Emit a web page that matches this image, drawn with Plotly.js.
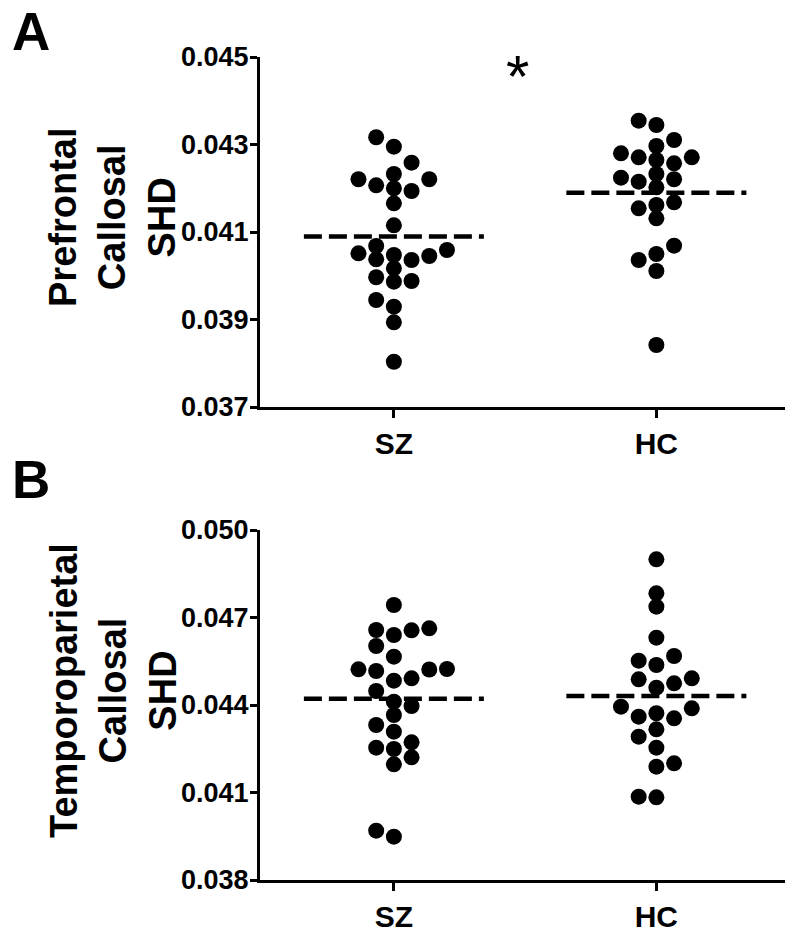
<!DOCTYPE html>
<html>
<head>
<meta charset="utf-8">
<script src="https://cdn.plot.ly/plotly-3.0.1.min.js"></script>
<style>html,body{margin:0;padding:0;background:#fff;}#chart{width:800px;height:943px;}</style>
</head>
<body>
<div id="chart"></div>
<script>
// ---- data ----
const categories = ['SZ', 'HC'];

// Panel A: Prefrontal callosal SHD
const prefrontalSZ = [0.043165, 0.04295, 0.042584, 0.042326, 0.042205, 0.042205, 0.042067, 0.041999,
  0.041937, 0.041656, 0.041153, 0.04068, 0.040589, 0.040513, 0.040474, 0.040451, 0.040376, 0.04036,
  0.04017, 0.039965, 0.03988, 0.039864, 0.039446, 0.039293, 0.038936, 0.038035];
const prefrontalHC = [0.043544, 0.043446, 0.043103, 0.042966, 0.042799, 0.042707, 0.042707, 0.042646,
  0.04257, 0.042326, 0.042241, 0.042205, 0.04215, 0.042022, 0.041679, 0.041617, 0.041542, 0.041313,
  0.040687, 0.040497, 0.04036, 0.040109, 0.038417];

// Panel B: Temporoparietal callosal SHD
const temporoSZ = [0.047429, 0.04663, 0.046571, 0.0464, 0.04656, 0.046023, 0.045656, 0.045234, 0.045224,
  0.045166, 0.045218, 0.044915, 0.044833, 0.04448, 0.043966, 0.044113, 0.043657, 0.043314, 0.043085,
  0.042721, 0.042536, 0.042491, 0.042207, 0.041967, 0.039485, 0.039691];
const temporoHC = [0.048995, 0.04783, 0.04737, 0.046307, 0.04568, 0.045519, 0.045371, 0.044915, 0.044881,
  0.044744, 0.044593, 0.043942, 0.043887, 0.043716, 0.043599, 0.043544, 0.043167, 0.042913, 0.042536,
  0.042001, 0.041885, 0.040856, 0.040835];

const yTicksA = [0.037, 0.039, 0.041, 0.043, 0.045];
const yTicksB = [0.038, 0.041, 0.044, 0.047, 0.050];
const titleA = 'Prefrontal<br>Callosal<br>SHD';
const titleB = 'Temporoparietal<br>Callosal<br>SHD';

// ---- geometry / style ----
const W = 800, H = 943;
const M = {l: 260, r: 15, t: 0, b: 0};
const PW = W - M.l - M.r;
const xRange = [0.49, 2.49];
const domA = [1 - 407 / H, 1 - 57 / H];
const domB = [1 - 880 / H, 1 - 530 / H];
const pxPerX = PW / (xRange[1] - xRange[0]);
const markerD = 16;
const slotW = 17.7 / pxPerX;
const meanHalf = 90 / pxPerX;
const font = 'Arial, "Liberation Sans", Helvetica, sans-serif';
const pxX = px => (px - M.l) / PW;   // figure pixel -> paper x
const pxY = py => 1 - py / H;        // figure pixel -> paper y

function pxPerY(dom, ticks) {
  return (dom[1] - dom[0]) * (H - M.t - M.b) / (ticks[ticks.length - 1] - ticks[0]);
}

// discrete-column swarm: each point goes to the nearest free column
function swarm(values, center, thr) {
  const order = values.map((v, i) => i).sort((a, b) => values[a] - values[b]);
  const cols = {};
  const xs = new Array(values.length);
  let left = 0, right = 0;
  order.forEach(i => {
    const v = values[i];
    const free = s => !(cols[s] || []).some(u => Math.abs(u - v) < thr);
    let chosen = null;
    if (free(0)) chosen = 0;
    for (let k = 1; chosen === null && k < 30; k++) {
      const cand = left <= right ? [-k, k] : [k, -k];
      for (const s of cand) { if (free(s)) { chosen = s; break; } }
    }
    (cols[chosen] = cols[chosen] || []).push(v);
    if (chosen < 0) left++; else if (chosen > 0) right++;
    xs[i] = center + chosen * slotW;
  });
  return xs;
}
const mean = a => a.reduce((s, v) => s + v, 0) / a.length;

const traces = [];
function addPanel(groups, xa, ya, dom, ticks) {
  const thr = 13 / pxPerY(dom, ticks);
  groups.forEach((vals, gi) => {
    const c = gi + 1;
    traces.push({
      type: 'scatter', mode: 'markers', xaxis: xa, yaxis: ya,
      x: swarm(vals, c, thr), y: vals, cliponaxis: false,
      marker: {size: markerD, color: '#000', line: {width: 0}},
      name: categories[gi], hoverinfo: 'y'
    });
    const m = mean(vals);
    traces.push({
      type: 'scatter', mode: 'lines', xaxis: xa, yaxis: ya,
      x: [c - meanHalf, c + meanHalf], y: [m, m], cliponaxis: false,
      line: {color: '#000', width: 4.5, dash: '18px,7px'},
      hoverinfo: 'skip'
    });
  });
}
addPanel([prefrontalSZ, prefrontalHC], 'x', 'y', domA, yTicksA);
addPanel([temporoSZ, temporoHC], 'x2', 'y2', domB, yTicksB);

const xCommon = {
  range: xRange, domain: [0, 1],
  tickvals: [1, 2], ticktext: categories,
  showline: true, linewidth: 3, linecolor: '#000',
  ticks: 'outside', ticklen: 8, tickwidth: 3, tickcolor: '#000',
  showgrid: false, zeroline: false, fixedrange: true,
  tickfont: {family: font, size: 30, color: '#000', weight: 'bold'}
};
function yAxis(dom, ticks, anchor) {
  return {
    domain: dom, anchor: anchor,
    range: [ticks[0], ticks[ticks.length - 1]],
    tickvals: ticks, ticktext: ticks.map(t => t.toFixed(3)),
    showline: true, linewidth: 3, linecolor: '#000',
    ticks: 'outside', ticklen: 7, tickwidth: 3, tickcolor: '#000',
    ticklabelstandoff: -4,
    showgrid: false, zeroline: false, fixedrange: true,
    tickfont: {family: font, size: 27, color: '#000', weight: 'bold'}
  };
}
function yTitle(text, cy) {
  return {text: text, xref: 'paper', yref: 'paper', x: pxX(113), y: pxY(cy),
    xanchor: 'center', yanchor: 'middle', textangle: -90, showarrow: false,
    font: {family: font, size: 38, color: '#000', weight: 'bold'}};
}

const layout = {
  width: W, height: H, margin: M,
  paper_bgcolor: '#fff', plot_bgcolor: '#fff',
  showlegend: false,
  xaxis: Object.assign({anchor: 'y'}, xCommon),
  xaxis2: Object.assign({anchor: 'y2'}, xCommon),
  yaxis: yAxis(domA, yTicksA, 'x'),
  yaxis2: yAxis(domB, yTicksB, 'x2'),
  annotations: [
    yTitle(titleA, 218),
    yTitle(titleB, 691),
    {text: 'A', xref: 'paper', yref: 'paper', x: pxX(31), y: 1,
     xanchor: 'center', yanchor: 'top', showarrow: false,
     font: {family: font, size: 53, color: '#000', weight: 'bold'}},
    {text: 'B', xref: 'paper', yref: 'paper', x: pxX(31), y: pxY(479),
     xanchor: 'center', yanchor: 'middle', showarrow: false,
     font: {family: font, size: 53, color: '#000', weight: 'bold'}},
    {text: '*', xref: 'paper', yref: 'paper', x: pxX(517), y: pxY(77),
     xanchor: 'center', yanchor: 'middle', showarrow: false,
     font: {family: font, size: 60, color: '#000'}}
  ]
};

Plotly.newPlot('chart', traces, layout, {staticPlot: true, displayModeBar: false});
</script>
</body>
</html>
